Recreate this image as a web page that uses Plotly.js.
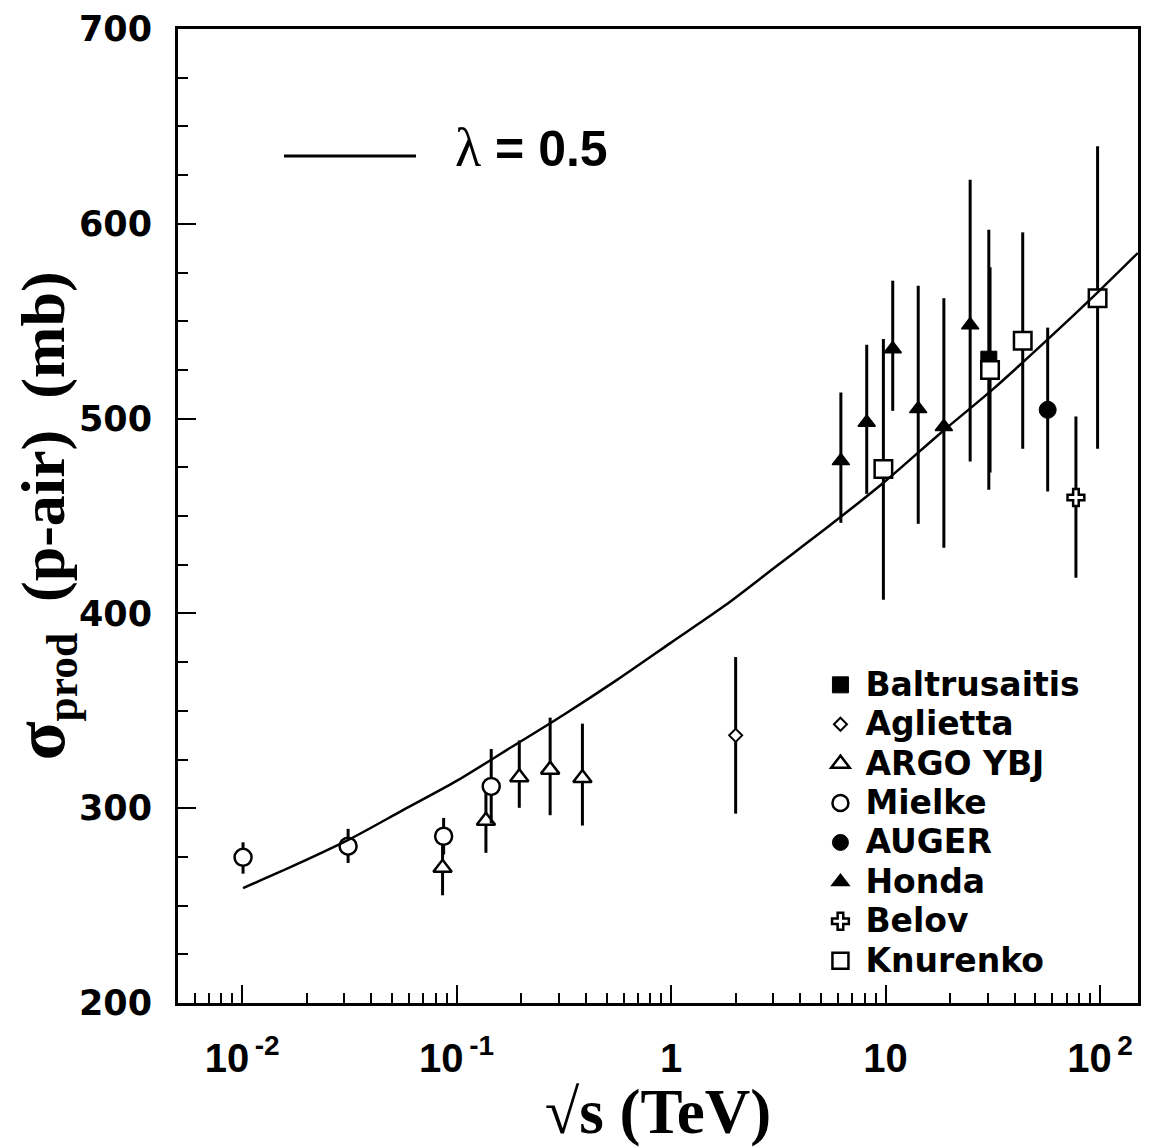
<!DOCTYPE html>
<html><head><meta charset="utf-8">
<script src="https://cdn.plot.ly/plotly-3.0.1.min.js"></script>
<style>html,body{margin:0;padding:0;background:#fff}</style>
</head><body>
<div id="chart" style="width:1151px;height:1147px"></div>
<script>
// ---- data (sqrt(s) in TeV, sigma in mb) ----
const seriesNames = ['Baltrusaitis','Aglietta','ARGO YBJ','Mielke','AUGER','Honda','Belov','Knurenko'];

const baltrusaitisE = [30.3];
const baltrusaitisSigma = [530.5];
const baltrusaitisHigh = [597];
const baltrusaitisLow = [463.5];

const agliettaE = [2.0];
const agliettaSigma = [337.4];
const agliettaHigh = [377.6];
const agliettaLow = [297.2];

const argoE = [0.086, 0.137, 0.196, 0.273, 0.386];
const argoSigma = [269.4, 293.5, 315.9, 319.8, 315.5];
const argoHigh = [287.3, 311.6, 334.8, 346.5, 343.4];
const argoLow = [255.3, 277.1, 300.2, 296.4, 291.1];

const mielkeE = [0.0101, 0.0312, 0.087, 0.145];
const mielkeSigma = [274.8, 280.5, 285.6, 311.2];
const mielkeHigh = [282.5, 289.4, 295.0, 330.4];
const mielkeLow = [266.4, 271.9, 276.2, 292.2];

const augerE = [57.0];
const augerSigma = [504.5];
const augerHigh = [546.7];
const augerLow = [462.6];

const hondaE = [6.19, 8.17, 10.8, 14.2, 18.7, 24.8];
const hondaSigma = [478.3, 498.0, 535.7, 505.0, 495.8, 548.0];
const hondaHigh = [513.4, 537.9, 570.8, 568.2, 561.8, 622.6];
const hondaLow = [446.5, 461.4, 504.0, 446.0, 433.7, 478.0];

const belovE = [77.2];
const belovSigma = [459.5];
const belovHigh = [501.1];
const belovLow = [418.3];

const knurenkoE = [9.77, 30.7, 43.6, 97.4];
const knurenkoSigma = [474.1, 525.0, 539.9, 561.8];
const knurenkoHigh = [540.8, 577.7, 595.6, 639.8];
const knurenkoLow = [407.0, 472.3, 484.5, 484.5];

// model curve (lambda = 0.5)
const curveE = [0.0101, 0.0178, 0.0316, 0.0562, 0.1, 0.178, 0.316, 0.562, 1, 1.78, 3.16, 5.62, 10, 17.8, 31.6, 56.2, 100, 150];
const curveSigma = [259, 271, 284, 299, 314, 331, 348, 366, 385, 404, 425, 446, 468, 492, 515, 540, 566, 585];

const xTickVals = [0.01, 0.1, 1, 10, 100];
const xTickText = ['10<sup>\u2009-2</sup>', '10<sup>\u2009-1</sup>', '1', '10', '10<sup>\u20092</sup>'];
const yTickVals = [200, 300, 400, 500, 600, 700];
const yTickText = ['200', '300', '400', '500', '600', '700'];

// ---- build traces ----
function errs(v, hi, lo) {
  return {
    type: 'data', symmetric: false,
    array: v.map((s, i) => hi[i] - s),
    arrayminus: v.map((s, i) => s - lo[i]),
    thickness: 3, width: 0, color: '#000'
  };
}
function legName(n) { return '<span style="font-size:33px">' + n + '</span>'; }

function pts(name, E, S, H, L, marker) {
  return {
    type: 'scatter', mode: 'markers', name: legName(name),
    x: E, y: S, error_y: errs(S, H, L), marker: marker, cliponaxis: false
  };
}

const traces = [
  pts(seriesNames[0], baltrusaitisE, baltrusaitisSigma, baltrusaitisHigh, baltrusaitisLow,
      {symbol: 'square', size: 16, color: '#000', line: {color: '#000', width: 1}}),
  pts(seriesNames[1], agliettaE, agliettaSigma, agliettaHigh, agliettaLow,
      {symbol: 'diamond', size: 10, color: '#fff', line: {color: '#000', width: 2}}),
  pts(seriesNames[2], argoE, argoSigma, argoHigh, argoLow,
      {symbol: 'triangle-up', size: 16, color: '#fff', line: {color: '#000', width: 2.5}}),
  pts(seriesNames[3], mielkeE, mielkeSigma, mielkeHigh, mielkeLow,
      {symbol: 'circle', size: 17, color: '#fff', line: {color: '#000', width: 2.5}}),
  pts(seriesNames[4], augerE, augerSigma, augerHigh, augerLow,
      {symbol: 'circle', size: 17, color: '#000', line: {color: '#000', width: 1}}),
  pts(seriesNames[5], hondaE, hondaSigma, hondaHigh, hondaLow,
      {symbol: 'triangle-up', size: 15, color: '#000', line: {color: '#000', width: 1.5}}),
  pts(seriesNames[6], belovE, belovSigma, belovHigh, belovLow,
      {symbol: 'cross', size: 14, color: '#fff', line: {color: '#000', width: 2.5}}),
  pts(seriesNames[7], knurenkoE, knurenkoSigma, knurenkoHigh, knurenkoLow,
      {symbol: 'square', size: 17.5, color: '#fff', line: {color: '#000', width: 2.5}}),
  {
    type: 'scatter', mode: 'lines', x: curveE, y: curveSigma, showlegend: false,
    line: {color: '#000', width: 2.5, shape: 'spline', smoothing: 0.8}
  }
];

const layout = {
  width: 1151, height: 1147,
  margin: {l: 178, r: 13, t: 29, b: 144},
  paper_bgcolor: '#fff', plot_bgcolor: '#fff',
  showlegend: true,
  legend: {
    x: 0.664, y: 0.352, xanchor: 'left', yanchor: 'top',
    bgcolor: 'rgba(0,0,0,0)', borderwidth: 0,
    font: {family: 'DejaVu Sans, sans-serif', size: 28, color: '#000', weight: 'bold'},
    itemwidth: 40, tracegroupgap: 0
  },
  xaxis: {
    type: 'log', range: [-2.299, 2.177],
    tickmode: 'array', tickvals: xTickVals, ticktext: xTickText,
    ticks: 'inside', ticklen: 18, tickwidth: 2, tickcolor: '#000',
    minor: {dtick: 'D1', ticks: 'inside', ticklen: 10, tickwidth: 2, tickcolor: '#000', showgrid: false},
    showline: true, linewidth: 3, linecolor: '#000', mirror: true,
    showgrid: false, zeroline: false,
    ticklabelstandoff: 18,
    tickfont: {family: 'Liberation Sans, Arial, sans-serif', size: 40, color: '#000', weight: 'bold'},
    title: {text: '\u221As (TeV)', standoff: 6,
      font: {family: 'Liberation Serif, Times New Roman, serif', size: 63, color: '#000', weight: 'bold'}}
  },
  yaxis: {
    range: [200, 700],
    tickmode: 'array', tickvals: yTickVals, ticktext: yTickText,
    ticks: 'inside', ticklen: 18, tickwidth: 2, tickcolor: '#000',
    minor: {dtick: 25, tick0: 200, ticks: 'inside', ticklen: 10, tickwidth: 2, tickcolor: '#000', showgrid: false},
    showline: true, linewidth: 3, linecolor: '#000', mirror: true,
    showgrid: false, zeroline: false,
    ticklabelstandoff: 16,
    tickfont: {family: 'DejaVu Sans, sans-serif', size: 35, color: '#000', weight: 'bold'},
    title: {text: '<span style="font-size:72px">\u03C3</span><sub>prod</sub>\u00A0\u00A0(p-air)\u00A0\u00A0(mb)', standoff: 14,
      font: {family: 'Liberation Serif, Times New Roman, serif', size: 62, color: '#000', weight: 'bold'}}
  },
  shapes: [
    {type: 'line', xref: 'paper', yref: 'paper', x0: 0.1104, x1: 0.2479, y0: 0.8696, y1: 0.8696,
     line: {color: '#000', width: 3}}
  ],
  annotations: [
    {xref: 'paper', yref: 'paper', x: 0.2865, y: 0.8778, xanchor: 'left', yanchor: 'middle',
     showarrow: false,
     text: '<span style="font-family:Liberation Serif;font-weight:normal;font-size:54px">\u03BB</span> = 0.5',
     font: {family: 'Liberation Sans, Arial, sans-serif', size: 50, color: '#000', weight: 'bold'}}
  ]
};

Plotly.newPlot('chart', traces, layout, {displayModeBar: false, staticPlot: true});
</script>
</body></html>
